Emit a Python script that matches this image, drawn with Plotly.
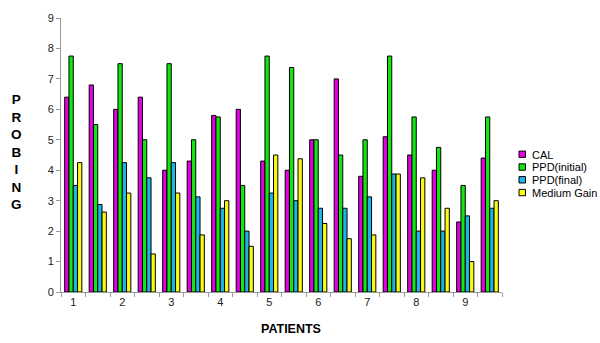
import plotly.graph_objects as go

groups = list(range(18))
tick_positions = [0, 2, 4, 6, 8, 10, 12, 14, 16]
tick_labels = ["1", "2", "3", "4", "5", "6", "7", "8", "9"]

cal = [6.4, 6.8, 6.0, 6.4, 4.0, 4.3, 5.8, 6.0, 4.3, 4.0, 5.0, 7.0, 3.8, 5.1, 4.5, 4.0, 2.3, 4.4]
ppd_initial = [7.75, 5.5, 7.5, 5.0, 7.5, 5.0, 5.75, 3.5, 7.75, 7.375, 5.0, 4.5, 5.0, 7.75, 5.75, 4.75, 3.5, 5.75]
ppd_final = [3.5, 2.875, 4.25, 3.75, 4.25, 3.125, 2.75, 2.0, 3.25, 3.0, 2.75, 2.75, 3.125, 3.875, 2.0, 2.0, 2.5, 2.75]
medium_gain = [4.25, 2.625, 3.25, 1.25, 3.25, 1.875, 3.0, 1.5, 4.5, 4.375, 2.25, 1.75, 1.875, 3.875, 3.75, 2.75, 1.0, 3.0]

series_names = ["CAL", "PPD(initial)", "PPD(final)", "Medium Gain"]
series_values = [cal, ppd_initial, ppd_final, medium_gain]
series_colors = ["#E400E4", "#14E614", "#1EB4E6", "#FAFA14"]

FIG_W, FIG_H = 600, 343
PX0, PX1, PY0, PY1 = 61, 502, 13, 292
W, H = PX1 - PX0, PY1 - PY0


def px(x):
    return (x - PX0) / W


def py(y):
    return (PY1 - y) / H


fig = go.Figure()
for name, vals, color in zip(series_names, series_values, series_colors):
    fig.add_trace(go.Bar(
        x=groups, y=vals, name=name, showlegend=False,
        marker=dict(color=color, line=dict(color="#000000", width=1)),
    ))

shapes = []
annotations = []
legend_y = [152, 165, 178, 191]
for name, color, ly in zip(series_names, series_colors, legend_y):
    shapes.append(dict(type="rect", xref="paper", yref="paper",
                       x0=px(519), x1=px(525.5), y0=py(ly + 3), y1=py(ly - 3.5),
                       fillcolor=color, line=dict(color="#000000", width=1)))
    annotations.append(dict(text=name, xref="paper", yref="paper",
                            x=px(529.5), y=py(ly), xanchor="left", yanchor="middle",
                            showarrow=False, font=dict(size=11, color="#000000")))

annotations += [
    dict(text="<b>PATIENTS</b>", xref="paper", yref="paper",
         x=px(291), y=py(330), xanchor="center", yanchor="middle",
         showarrow=False, font=dict(size=12.5, color="#000000")),
    dict(text="<b>P<br>R<br>O<br>B<br>I<br>N<br>G</b>", xref="paper", yref="paper",
         x=px(16), y=py(149), xanchor="center", yanchor="middle",
         showarrow=False, font=dict(size=13.5, color="#000000")),
]

fig.update_layout(
    width=FIG_W, height=FIG_H,
    margin=dict(l=PX0, r=FIG_W - PX1, t=PY0, b=FIG_H - PY1),
    paper_bgcolor="white", plot_bgcolor="white",
    barmode="group", bargap=0.3, bargroupgap=0,
    font=dict(family="Arial, Liberation Sans, sans-serif", size=11, color="#222222"),
    showlegend=False,
    xaxis=dict(
        range=[-0.5, 17.5],
        tickmode="array", tickvals=tick_positions, ticktext=tick_labels,
        ticks="", showgrid=False, zeroline=False,
        showline=True, linecolor="#999999", linewidth=1,
        minor=dict(tickmode="linear", tick0=-0.5, dtick=1, ticks="outside",
                   ticklen=4, tickcolor="#999999", showgrid=False),
        tickfont=dict(size=11, color="#222222"),
    ),
    yaxis=dict(
        range=[0, 9], dtick=1, tick0=0,
        ticks="outside", ticklen=4, tickcolor="#999999",
        showgrid=False, zeroline=False,
        showline=True, linecolor="#999999", linewidth=1,
        tickfont=dict(size=11, color="#222222"),
    ),
    shapes=shapes,
    annotations=annotations,
)

fig.write_html(
    "out.html",
    config={"displayModeBar": False},
    post_script="document.body.style.margin='0';document.body.style.overflow='hidden';",
)
